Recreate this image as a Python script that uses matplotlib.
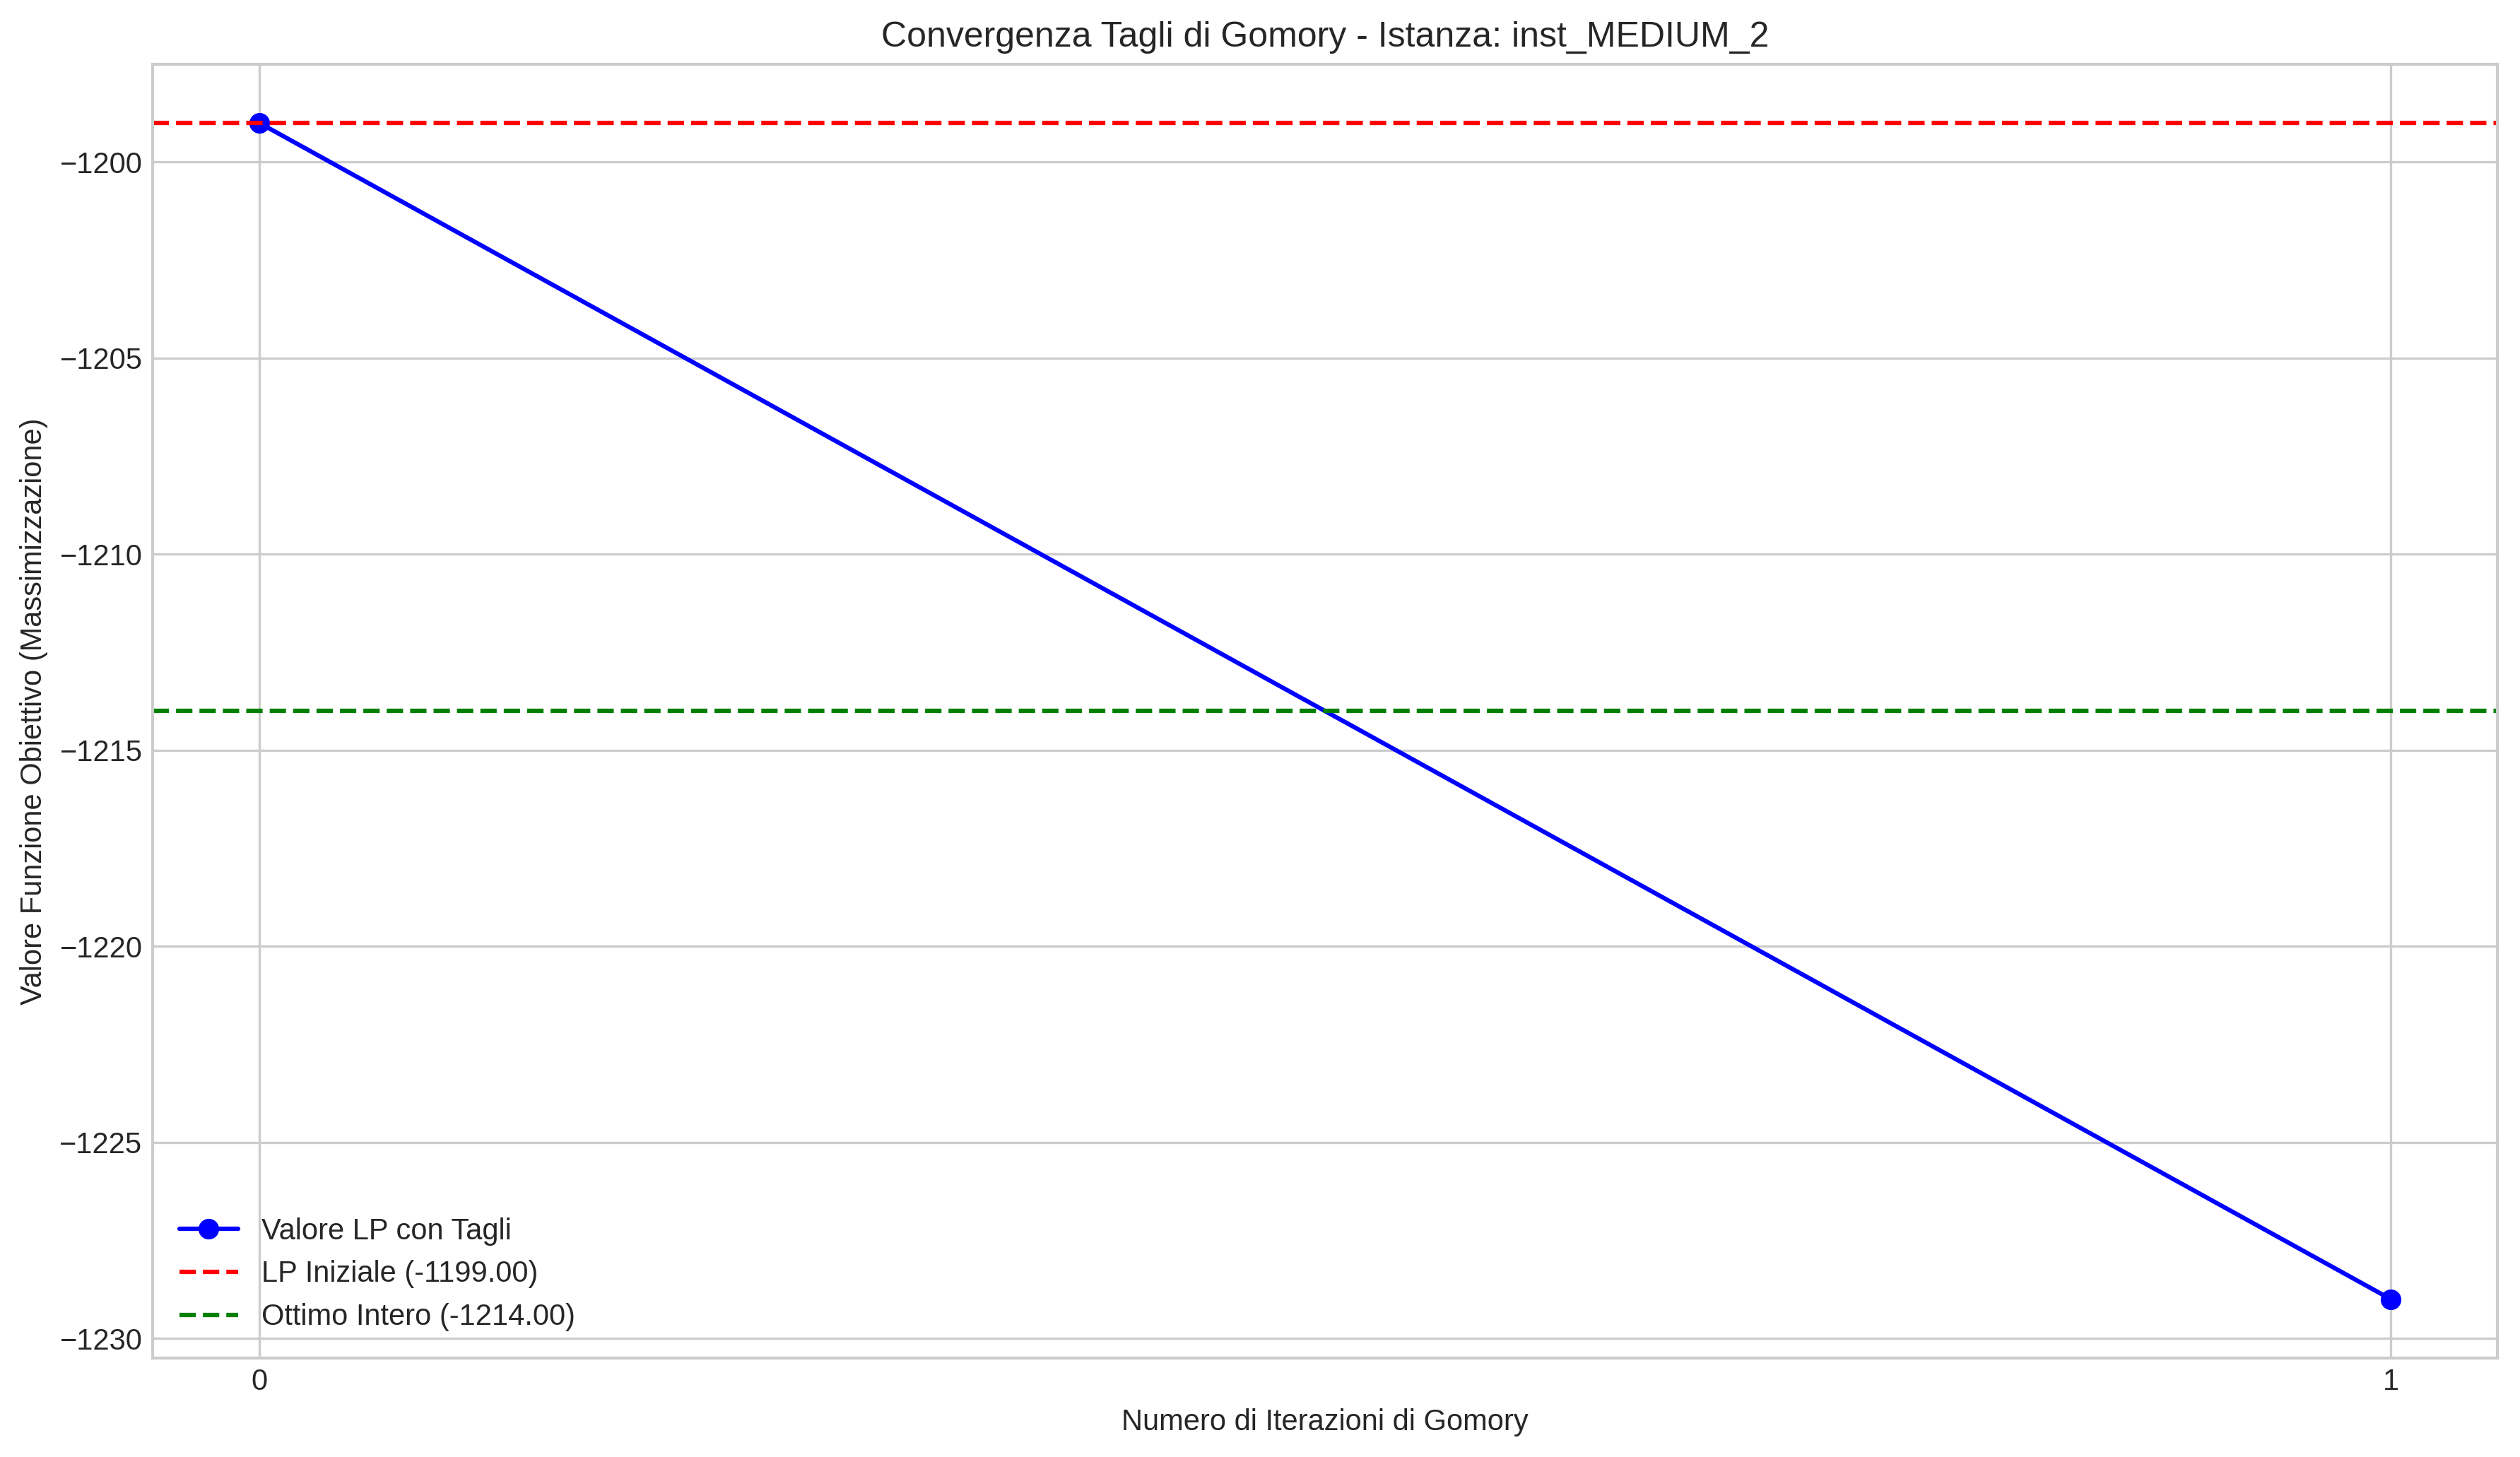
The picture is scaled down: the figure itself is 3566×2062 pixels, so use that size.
import matplotlib
matplotlib.use("Agg")
import matplotlib.pyplot as plt

# --- DATI ---
iterazioni = [0, 1]
valori_lp = [-1199.0, -1229.0]
lp_iniziale = -1199.0
ottimo_intero = -1214.0
istanza = "inst_MEDIUM_2"

plt.style.use("seaborn-v0_8-whitegrid")
plt.rcParams['font.family'] = ['Liberation Sans', 'DejaVu Sans']

fig = plt.figure(figsize=(3566 / 300, 2062 / 300), dpi=300)
ax = fig.add_subplot(111)
fig.subplots_adjust(left=0.0606, right=0.991, top=0.956, bottom=0.068)

ax.plot(iterazioni, valori_lp, marker='o', linestyle='-', color='b', label='Valore LP con Tagli')
ax.axhline(y=lp_iniziale, color='r', linestyle='--', label=f'LP Iniziale ({lp_iniziale:.2f})')
ax.axhline(y=ottimo_intero, color='g', linestyle='--', label=f'Ottimo Intero ({ottimo_intero:.2f})')

ax.set_title(f"Convergenza Tagli di Gomory - Istanza: {istanza}")
ax.set_xlabel("Numero di Iterazioni di Gomory")
ax.set_ylabel("Valore Funzione Obiettivo (Massimizzazione)")
ax.set_xticks(iterazioni)
ax.legend(loc='lower left')

fig.savefig("out.png", dpi=300)
